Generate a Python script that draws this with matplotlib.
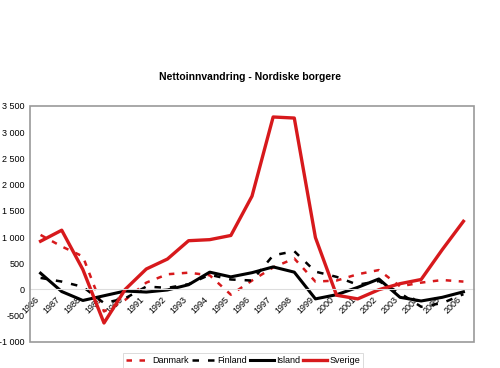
import numpy as np
import matplotlib
matplotlib.use("Agg")
import matplotlib.pyplot as plt
import matplotlib.patches as patches
from matplotlib.ticker import FuncFormatter

plt.rcParams['font.family'] = ['Liberation Sans', 'DejaVu Sans']

# Data
aar = [str(a) for a in range(1986, 2007)]
danmark = [1040, 820, 630, -420, -200, 130, 290, 320, 270, -100, 170, 420, 590, 150, 170, 290, 370, 60, 130, 180, 150]
finland = [220, 150, 50, -260, -170, 55, 30, 100, 280, 190, 170, 650, 730, 340, 240, 90, 160, -70, -330, -260, -90]
island = [310, -40, -210, -120, -30, -50, -10, 90, 330, 240, 320, 430, 330, -180, -100, 40, 200, -150, -220, -150, -45]
sverige = [920, 1130, 380, -640, 0, 390, 580, 930, 950, 1030, 1780, 3290, 3270, 990, -110, -180, -5, 110, 190, 760, 1300]

rod = '#d7191c'

fig = plt.figure(figsize=(5.0, 3.68), dpi=100)
ax = fig.add_axes([0.06, 0.071, 0.888, 0.641])

x = np.arange(len(aar))
ax.plot(x, danmark, color=rod, lw=1.8, dashes=(2.2, 3.0), label='Danmark')
ax.plot(x, finland, color='black', lw=1.8, dashes=(2.6, 3.6), label='Finland')
ax.plot(x, island, color='black', lw=2.2, label='Island')
ax.plot(x, sverige, color=rod, lw=2.4, label='Sverige')

ax.set_xlim(-0.5, len(aar) - 0.5)
ax.set_ylim(-1000, 3500)
ax.set_yticks(np.arange(-1000, 3501, 500))
ax.yaxis.set_major_formatter(FuncFormatter(lambda v, p: f"{int(v):,}".replace(',', ' ')))
ax.tick_params(axis='y', labelsize=6.5, length=0, pad=4)

# horisontal akse ved 0 med etiketter
ax.spines['bottom'].set_position(('data', 0))
ax.spines['bottom'].set_color('#dddddd')
ax.spines['bottom'].set_linewidth(0.8)
for s in ['top', 'right', 'left']:
    ax.spines[s].set_visible(False)
ax.set_xticks(x)
ax.set_xticklabels(aar, rotation=45, ha='right', fontsize=6.5)
ax.tick_params(axis='x', length=0, pad=4)

# ramme rundt plottet
ax.add_patch(patches.Rectangle((0, 0), 1, 1, transform=ax.transAxes, fill=False,
                               edgecolor='#999999', lw=1.2, clip_on=False, zorder=5))

fig.text(0.5, 0.79, 'Nettoinnvandring - Nordiske borgere', ha='center', va='center',
         fontsize=7.5, fontweight='bold')

leg = ax.legend(loc='upper center', bbox_to_anchor=(0.48, -0.03), ncol=4, fontsize=6.5,
                frameon=True, fancybox=False, edgecolor='#cccccc', handlelength=2.6,
                handletextpad=0.3, columnspacing=0.3, borderpad=0.3)
leg.get_frame().set_linewidth(0.6)

fig.savefig('out.png', dpi=100, facecolor='white')
